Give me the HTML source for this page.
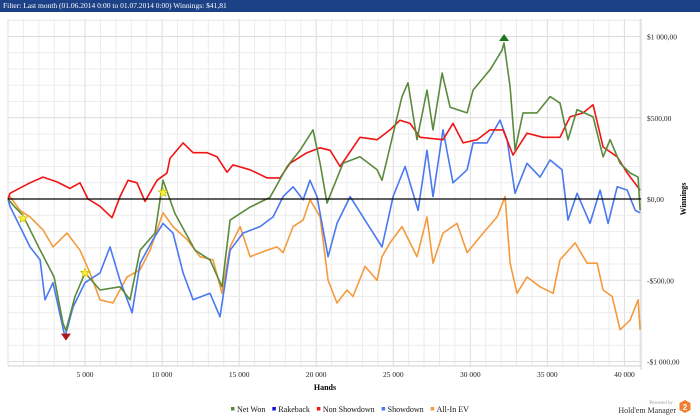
<!DOCTYPE html>
<html><head><meta charset="utf-8"><style>
body{margin:0;width:700px;height:419px;background:#fff;overflow:hidden;font-family:"Liberation Serif",serif;}
#hdr{position:absolute;left:0;top:0;width:700px;height:12px;background:#1c4186;color:#fff;font-size:7.5px;line-height:12px;padding-left:3px;box-sizing:border-box;}
svg{position:absolute;left:0;top:0;}
</style></head><body>
<div id="hdr">Filter: Last month (01.06.2014 0:00 to 01.07.2014 0:00)  Winnings: $41,81</div>
<svg id="chart" width="700" height="419"></svg>
<script>
// hands in thousands, winnings in $
const netWonHands=[0,0.45,0.97,2.01,2.99,3.57,3.76,4.35,5.0,5.97,7.27,7.92,8.57,9.54,10.06,10.84,12.14,13.11,13.89,14.41,15.71,17.0,18.11,18.95,19.79,20.25,20.70,21.74,22.84,23.95,24.27,24.79,25.57,25.96,26.54,27.19,27.58,28.17,28.69,29.79,30.18,31.28,32.06,32.19,32.58,32.91,33.42,34.33,35.18,35.82,36.34,36.93,37.97,38.62,39.07,39.72,40.37,40.89,41.02];
const netWonValues=[0,-50,-100,-300,-480,-765,-810,-600,-455,-560,-540,-620,-315,-210,115,-90,-315,-375,-540,-130,-50,10,200,300,425,220,-25,220,260,180,115,320,630,715,365,670,425,775,565,530,670,795,915,960,690,300,530,530,630,590,365,550,505,260,365,220,160,135,-70];
const nonSdHands=[0,0.13,1.43,2.27,3.18,4.02,4.67,5.19,5.97,6.75,7.27,7.79,8.37,8.89,9.67,10.32,10.51,11.36,12.01,12.92,13.56,14.21,14.60,15.71,16.81,17.65,18.30,19.40,20.25,20.90,21.55,22.84,23.95,24.79,25.44,26.09,26.74,28.23,28.88,29.53,30.44,31.28,32.13,32.77,33.68,34.72,35.82,36.47,37.32,37.97,38.62,39.53,40.18,41.02];
const nonSdValues=[0,35,100,135,105,65,100,0,-45,-115,15,115,100,-15,115,160,250,345,285,285,260,165,210,180,130,130,220,285,315,300,200,380,365,425,485,465,380,365,465,345,365,425,425,270,405,380,380,505,530,580,320,260,160,55];
const sdHands=[0,0.13,0.78,1.43,2.08,2.40,2.92,3.70,4.22,5.0,5.97,6.62,7.27,8.05,8.57,9.41,10.06,10.71,11.36,12.01,13.11,13.76,14.41,15.25,16.35,17.20,17.85,18.50,19.15,19.60,20.05,20.77,21.35,22.20,23.30,24.27,24.99,25.77,26.61,27.19,27.58,28.23,28.88,29.79,30.18,31.09,31.93,32.39,32.90,33.68,34.52,35.18,35.95,36.34,36.93,37.77,38.42,38.94,39.53,40.18,40.70,41.02];
const sdValues=[0,-45,-170,-295,-375,-620,-515,-850,-665,-515,-455,-295,-500,-700,-395,-250,-150,-210,-455,-620,-580,-725,-315,-210,-170,-110,15,75,-5,115,15,-355,-150,15,-150,-295,15,200,-70,300,15,425,100,180,345,345,485,365,35,220,135,240,180,-130,35,-150,55,-150,75,55,-70,-85];
const evHands=[0,0.13,0.78,1.43,2.27,2.92,3.83,4.67,5.32,5.97,6.81,7.72,8.57,9.22,10.06,10.71,11.62,12.46,13.30,13.89,14.41,15.06,15.71,16.81,17.46,17.85,18.50,19.15,19.60,20.25,20.77,21.35,22.0,22.39,23.17,23.95,24.27,24.79,25.57,26.54,27.19,27.58,28.23,29.14,29.79,30.83,31.74,32.26,32.58,33.03,33.68,34.53,35.37,35.82,36.80,37.58,38.23,38.62,39.21,39.72,40.37,40.89,41.02];
const evValues=[0,15,-70,-110,-190,-295,-210,-315,-455,-620,-640,-480,-435,-315,-85,-170,-250,-355,-375,-580,-295,-170,-355,-315,-295,-330,-170,-130,-5,-110,-500,-640,-560,-600,-415,-500,-355,-270,-170,-355,-110,-395,-210,-150,-330,-210,-110,15,-395,-580,-480,-540,-580,-375,-270,-395,-395,-560,-600,-805,-745,-620,-805];
const xTicks=[5,10,15,20,25,30,35,40];
const xTickLabels=["5 000","10 000","15 000","20 000","25 000","30 000","35 000","40 000"];
const yTicks=[1000,500,0,-500,-1000];
const yTickLabels=["$1 000,00","$500,00","$0,00","-$500,00","-$1 000,00"];
const starHands=[0.97,5.0,10.06];
const starValues=[-120,-455,40];

const NS="http://www.w3.org/2000/svg";
const svg=document.getElementById('chart');
const L=8,R=641,T=19,B=366;
const X=h=>L+h*15.41;
const Y=v=>199-v*0.1625;
function el(t,a,p){const e=document.createElementNS(NS,t);for(const k in a)e.setAttribute(k,a[k]);(p||svg).appendChild(e);return e;}
// grid
const grid=el('g',{});


for(let h=0;h<=41;h++){el('line',{x1:X(h),x2:X(h),y1:T,y2:B,stroke:h%5==0?'#dcdcdc':'#ececec','stroke-width':1},grid);}
for(let v=1100;v>=-1000;v-=100){const y=Y(v);if(y<T||y>B+1)continue;el('line',{x1:L,x2:R,y1:y,y2:y,stroke:v%500==0?'#dcdcdc':'#ececec','stroke-width':1},grid);}
el('line',{x1:L,x2:L,y1:T,y2:B,stroke:'#e0e0e0'},grid);
el('line',{x1:R,x2:R,y1:T,y2:B+4,stroke:'#d0d0d0'},grid);
el('line',{x1:L,x2:R,y1:B,y2:B,stroke:'#d0d0d0'},grid);
// ticks
xTicks.forEach((h,i)=>{const t=el('text',{x:X(h),y:377,'font-size':7.5,'text-anchor':'middle',fill:'#222'});t.textContent=xTickLabels[i];

});
yTicks.forEach((v,i)=>{const t=el('text',{x:647,y:Y(v)+3,'font-size':7.5,fill:'#222'});t.textContent=yTickLabels[i];

});
const xt=el('text',{x:325,y:390,'font-size':8,'font-weight':'bold','text-anchor':'middle'});xt.textContent='Hands';


const yt=el('text',{x:686,y:199,'font-size':8,'font-weight':'bold','text-anchor':'middle',transform:'rotate(-90 686 199)'});yt.textContent='Winnings';


// series
function series(hs,vs,color,name){const p=el('polyline',{points:hs.map((h,i)=>X(h).toFixed(1)+','+Y(vs[i]).toFixed(1)).join(' '),fill:'none',stroke:color,'stroke-width':1.6,'stroke-linejoin':'round'});

}
series(evHands,evValues,'#f59a3c','all-in-ev-line');
series(sdHands,sdValues,'#4a78f0','showdown-line');
series(nonSdHands,nonSdValues,'#f01414','non-showdown-line');
series(netWonHands,netWonValues,'#5a8a3c','net-won-line');
const zl=el('line',{x1:L,x2:R,y1:Y(0),y2:Y(0),stroke:'#000','stroke-width':1.3});


// markers
function star(cx,cy){let pts=[];for(let i=0;i<10;i++){const r=i%2?2.2:5,a=Math.PI/5*i-Math.PI/2;pts.push((cx+r*Math.cos(a)).toFixed(1)+','+(cy+r*Math.sin(a)).toFixed(1));}
const s=el('polygon',{points:pts.join(' '),fill:'#f5f03a',stroke:'#c8b400','stroke-width':0.6});

}
starHands.forEach((h,i)=>star(X(h),Y(starValues[i])));
const minI=netWonValues.indexOf(Math.min(...netWonValues)),maxI=netWonValues.indexOf(Math.max(...netWonValues));
const mx=X(netWonHands[minI]),my=Y(netWonValues[minI])+3;
const tmin=el('polygon',{points:`${mx-5},${my} ${mx+5},${my} ${mx},${my+7}`,fill:'#b01818'});


const Mx=X(netWonHands[maxI]),My=Y(netWonValues[maxI])-2;
const tmax=el('polygon',{points:`${Mx-5},${My} ${Mx+5},${My} ${Mx},${My-7}`,fill:'#1a7a1a'});


// legend
const leg=[['Net Won','#5a8a3c'],['Rakeback','#1010e0'],['Non Showdown','#f01414'],['Showdown','#4a78f0'],['All-In EV','#f59a3c']];
let lx=231;
leg.forEach(([n,c])=>{const g=el('g',{});


el('rect',{x:lx,y:407,width:3.5,height:3.5,fill:c},g);
const t=el('text',{x:lx+6,y:412,'font-size':8,fill:'#111'},g);t.textContent=n;
lx+=6+t.getComputedTextLength()+7;});
// logo
const lg=el('g',{});


const p1=el('text',{x:673,y:404,'font-size':5,fill:'#999','text-anchor':'end'},lg);p1.textContent='Powered by';
const p2=el('text',{x:676,y:413,'font-size':8,fill:'#333','text-anchor':'end'},lg);p2.textContent="Hold'em Manager";
el('polygon',{points:'685,400 690.5,403 690.5,410 685,413 679.5,410 679.5,403',fill:'#f08030'},lg);
const p3=el('text',{x:685,y:410,'font-size':8,'font-weight':'bold',fill:'#fff','text-anchor':'middle','font-family':'Liberation Sans'},lg);p3.textContent='2';
</script>
</body></html>
